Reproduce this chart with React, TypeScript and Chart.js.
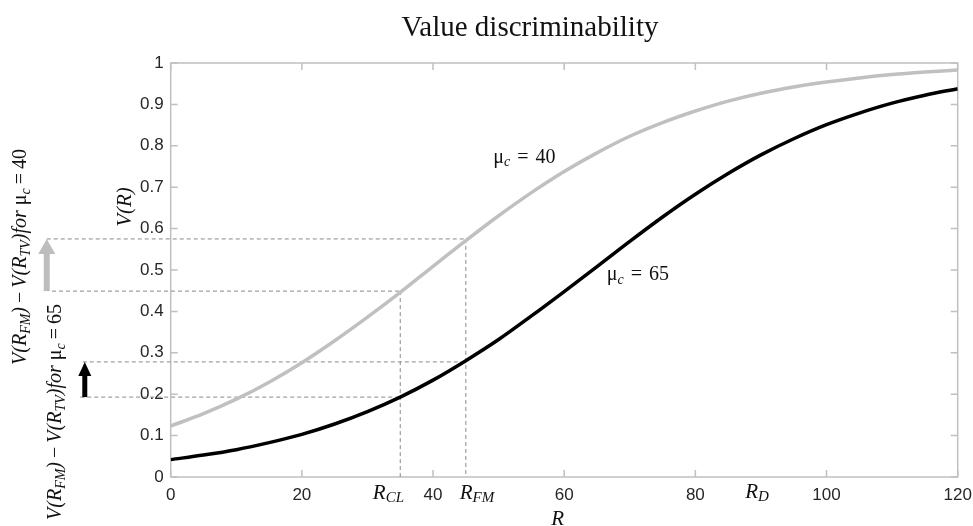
import { useEffect, useRef } from "react";
import { Chart, registerables } from "chart.js";

Chart.register(...registerables);

// R values sampled along the curves
const rValues = [
  0, 5, 10, 15, 20, 25, 30, 35, 40, 45, 50, 55, 60, 65, 70, 75, 80, 85, 90, 95,
  100, 105, 110, 115, 120,
];
// V(R) for mu_c = 40 (grey) and mu_c = 65 (black)
const vMu40 = [
  0.123, 0.153, 0.188, 0.229, 0.276, 0.329, 0.386, 0.446, 0.509, 0.571, 0.631,
  0.687, 0.738, 0.783, 0.823, 0.856, 0.884, 0.908, 0.927, 0.942, 0.954, 0.964,
  0.972, 0.978, 0.983,
];
const vMu65 = [
  0.042, 0.053, 0.066, 0.083, 0.103, 0.128, 0.158, 0.193, 0.234, 0.281, 0.332,
  0.389, 0.448, 0.508, 0.569, 0.628, 0.683, 0.733, 0.778, 0.817, 0.851, 0.879,
  0.903, 0.922, 0.938,
];

const xTicks = [0, 20, 40, 60, 80, 100, 120];
const yTicks = [0, 0.1, 0.2, 0.3, 0.4, 0.5, 0.6, 0.7, 0.8, 0.9, 1];

// reference points R_CL, R_FM and the curve values there
const rCL = 35;
const rFM = 45;
const grayAtCL = 0.449;
const grayAtFM = 0.575;
const blackAtCL = 0.193;
const blackAtFM = 0.278;

const GRAY = "#c0c0c0";
const SERIF = '"Liberation Serif", "Times New Roman", serif';
const SANS = '"Liberation Sans", Arial, sans-serif';

type Seg = { t: string; it?: boolean; sub?: boolean; gap?: number };

function segFont(s: Seg, size: number) {
  const sz = s.sub ? Math.round(size * 0.72) : size;
  return `${s.it ? "italic " : ""}${sz}px ${SERIF}`;
}

// draws a line of mixed italic / subscript text centred on (x, y)
function drawRich(ctx: CanvasRenderingContext2D, segs: Seg[], x: number, y: number, size: number, align = "center") {
  let total = 0;
  const widths = segs.map((s) => {
    ctx.font = segFont(s, size);
    const w = ctx.measureText(s.t).width + (s.gap || 0) * 2;
    total += w;
    return w;
  });
  let cx = align === "center" ? x - total / 2 : x;
  ctx.textBaseline = "middle";
  ctx.textAlign = "left";
  segs.forEach((s, i) => {
    ctx.font = segFont(s, size);
    ctx.fillText(s.t, cx + (s.gap || 0), s.sub ? y + size * 0.25 : y);
    cx += widths[i];
  });
}

function arrow(ctx: CanvasRenderingContext2D, x: number, y0: number, y1: number, color: string, shaft: number, headW: number, headL: number) {
  ctx.save();
  ctx.strokeStyle = color;
  ctx.fillStyle = color;
  ctx.lineWidth = shaft;
  ctx.beginPath();
  ctx.moveTo(x, y0);
  ctx.lineTo(x, y1 + headL - 1);
  ctx.stroke();
  ctx.beginPath();
  ctx.moveTo(x, y1);
  ctx.lineTo(x - headW / 2, y1 + headL);
  ctx.lineTo(x + headW / 2, y1 + headL);
  ctx.closePath();
  ctx.fill();
  ctx.restore();
}

const frameAndGuides = {
  id: "frameAndGuides",
  beforeDatasetsDraw(chart: any) {
    const { ctx, chartArea: a, scales } = chart;
    const xs = scales.x;
    const ys = scales.y;
    ctx.save();
    // box
    ctx.strokeStyle = GRAY;
    ctx.lineWidth = 1.5;
    ctx.strokeRect(a.left, a.top, a.right - a.left, a.bottom - a.top);
    // inward ticks on all four sides
    ctx.beginPath();
    xTicks.forEach((v) => {
      const px = xs.getPixelForValue(v);
      ctx.moveTo(px, a.bottom);
      ctx.lineTo(px, a.bottom - 7);
      ctx.moveTo(px, a.top);
      ctx.lineTo(px, a.top + 7);
    });
    yTicks.forEach((v) => {
      const py = ys.getPixelForValue(v);
      ctx.moveTo(a.left, py);
      ctx.lineTo(a.left + 7, py);
      ctx.moveTo(a.right, py);
      ctx.lineTo(a.right - 7, py);
    });
    ctx.stroke();

    // dashed guides
    ctx.strokeStyle = "#8a8a8a";
    ctx.lineWidth = 1;
    ctx.setLineDash([4, 3]);
    const hLines = [
      [-18.9, rFM, grayAtFM],
      [-18.1, rCL, grayAtCL],
      [-13.4, rFM, blackAtFM],
      [-13.8, rCL, blackAtCL],
    ];
    ctx.beginPath();
    hLines.forEach(([r0, r1, v]) => {
      const py = ys.getPixelForValue(v);
      ctx.moveTo(xs.getPixelForValue(r0), py);
      ctx.lineTo(xs.getPixelForValue(r1), py);
    });
    [
      [rCL, grayAtCL],
      [rFM, grayAtFM],
    ].forEach(([r, v]) => {
      const px = xs.getPixelForValue(r);
      ctx.moveTo(px, ys.getPixelForValue(v));
      ctx.lineTo(px, a.bottom);
    });
    ctx.stroke();
    ctx.restore();
  },
  afterDraw(chart: any) {
    const { ctx, scales } = chart;
    const xs = scales.x;
    const ys = scales.y;
    ctx.save();
    ctx.fillStyle = "#111";

    // title
    ctx.font = `29px ${SERIF}`;
    ctx.textAlign = "center";
    ctx.textBaseline = "middle";
    ctx.fillText("Value discriminability", 530, 28);

    // arrows showing the differences
    arrow(ctx, xs.getPixelForValue(-18.9), ys.getPixelForValue(grayAtCL), ys.getPixelForValue(grayAtFM), "#bdbdbd", 6, 17, 15);
    arrow(ctx, xs.getPixelForValue(-13.1), ys.getPixelForValue(blackAtCL), ys.getPixelForValue(blackAtFM), "#000", 5, 13, 14);

    // curve labels
    const mu = (n: string): Seg[] => [
      { t: "\u03bc" },
      { t: "c", it: true, sub: true },
      { t: "=", gap: 7 },
      { t: n },
    ];
    drawRich(ctx, mu("40"), xs.getPixelForValue(49.2), ys.getPixelForValue(0.771), 20, "left");
    drawRich(ctx, mu("65"), xs.getPixelForValue(66.5), ys.getPixelForValue(0.488), 20, "left");

    // x-axis markers
    const bottomY = 493;
    drawRich(ctx, [{ t: "R", it: true }, { t: "CL", it: true, sub: true }], xs.getPixelForValue(33.2), bottomY, 21);
    drawRich(ctx, [{ t: "R", it: true }, { t: "FM", it: true, sub: true }], xs.getPixelForValue(46.7), bottomY, 21);
    drawRich(ctx, [{ t: "R", it: true }, { t: "D", it: true, sub: true }], xs.getPixelForValue(89.4), bottomY - 1, 21);
    drawRich(ctx, [{ t: "R", it: true }], xs.getPixelForValue(59), 519, 21);

    // y-axis title
    ctx.save();
    ctx.translate(125, 207);
    ctx.rotate(-Math.PI / 2);
    drawRich(ctx, [{ t: "V(R)", it: true }], 0, 0, 21);
    ctx.restore();

    // rotated difference labels
    const diff = (n: string): Seg[] => [
      { t: "V(R", it: true },
      { t: "FM", it: true, sub: true },
      { t: ")", it: true },
      { t: "\u2212", gap: 4 },
      { t: "V(R", it: true },
      { t: "TV", it: true, sub: true },
      { t: ")for ", it: true },
      { t: "\u03bc" },
      { t: "c", it: true, sub: true },
      { t: "=", gap: 4 },
      { t: n },
    ];
    ctx.save();
    ctx.translate(21, 257);
    ctx.rotate(-Math.PI / 2);
    drawRich(ctx, diff("40"), 0, 0, 20);
    ctx.restore();
    ctx.save();
    ctx.translate(56, 412);
    ctx.rotate(-Math.PI / 2);
    drawRich(ctx, diff("65"), 0, 0, 20);
    ctx.restore();

    ctx.restore();
  },
};

export default function App() {
  const canvasRef = useRef<HTMLCanvasElement>(null);
  const chartRef = useRef<Chart | null>(null);

  useEffect(() => {
    if (!canvasRef.current) return;
    if (chartRef.current) chartRef.current.destroy();

    const tickFont = { family: SANS, size: 17 };

    chartRef.current = new Chart(canvasRef.current, {
      type: "line",
      data: {
        datasets: [
          {
            label: "mu_c = 40",
            data: rValues.map((r, i) => ({ x: r, y: vMu40[i] })),
            borderColor: GRAY,
            borderWidth: 3.5,
            pointRadius: 0,
            cubicInterpolationMode: "monotone",
          },
          {
            label: "mu_c = 65",
            data: rValues.map((r, i) => ({ x: r, y: vMu65[i] })),
            borderColor: "#000",
            borderWidth: 3.5,
            pointRadius: 0,
            cubicInterpolationMode: "monotone",
          },
        ],
      },
      options: {
        responsive: true,
        maintainAspectRatio: false,
        animation: false,
        layout: { padding: { top: 63, right: 15.3, left: 0, bottom: 0 } },
        plugins: {
          legend: { display: false },
          tooltip: { enabled: false },
          title: { display: false },
        },
        scales: {
          x: {
            type: "linear",
            min: 0,
            max: 120,
            afterBuildTicks: (scale: any) => {
              scale.ticks = xTicks.map((v) => ({ value: v }));
            },
            afterFit: (scale: any) => {
              scale.height = 49;
              scale.paddingLeft = 0;
              scale.paddingRight = 0;
            },
            grid: { display: false, drawTicks: false },
            border: { display: false },
            ticks: { font: tickFont, color: "#262626", padding: 8, maxRotation: 0, callback: (v: any) => String(v) },
          },
          y: {
            min: 0,
            max: 1,
            afterBuildTicks: (scale: any) => {
              scale.ticks = yTicks.map((v) => ({ value: v }));
            },
            afterFit: (scale: any) => {
              scale.width = 170.7;
              scale.paddingTop = 0;
              scale.paddingBottom = 0;
            },
            grid: { display: false, drawTicks: false },
            border: { display: false },
            ticks: { font: tickFont, color: "#262626", padding: 7, callback: (v: any) => String(v) },
          },
        },
      },
      plugins: [frameAndGuides],
    } as any);

    return () => {
      if (chartRef.current) {
        chartRef.current.destroy();
        chartRef.current = null;
      }
    };
  }, []);

  return (
    <div style={{ position: "fixed", left: 0, top: 0, width: 973, height: 526, background: "#fff" }}>
      <canvas ref={canvasRef} />
    </div>
  );
}
